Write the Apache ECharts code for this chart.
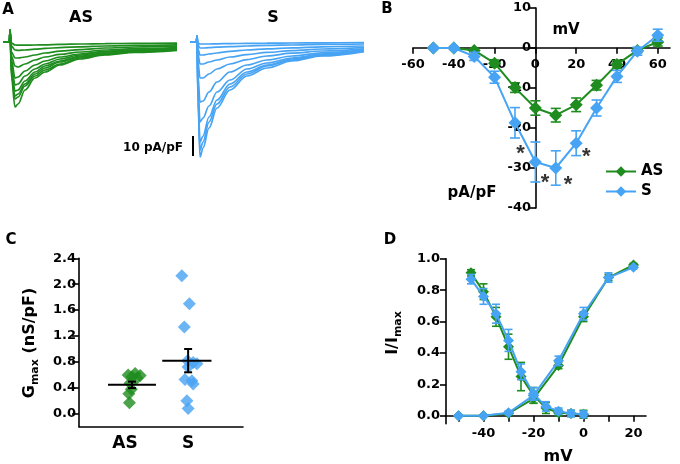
<!DOCTYPE html>
<html><head><meta charset="utf-8">
<script src="https://cdn.jsdelivr.net/npm/echarts@6/dist/echarts.min.js"></script>
<style>html,body{margin:0;padding:0;background:#fff}#c{width:680px;height:464px}</style>
</head><body><div id="c"></div>
<script>
// ---------- Panel A: current traces (pA/pF) ----------
const traceTimeAS = [-7, -0.5, 0, 1.5, 5, 8, 15, 25, 35, 50, 70, 95, 125, 167];
const tracesAS = [
  [0,0,6,-18,-32.5,-31,-24,-18,-15,-11.5,-8.5,-6.5,-5.2,-4.2],
  [0,0,6,-16,-28.5,-27.5,-22,-17,-14,-11,-8,-6.2,-5,-4],
  [0,0,6,-15,-27,-26,-21,-16,-13,-10,-7.5,-5.8,-4.7,-3.8],
  [0,0,6,-13,-24.5,-24,-19.5,-15,-12,-9.5,-7,-5.5,-4.5,-3.6],
  [0,0,6,-11,-21.5,-21,-17,-13.5,-11,-8.5,-6.5,-5,-4.2,-3.4],
  [0,0,6,-9,-18,-17.5,-14.5,-11.5,-9.5,-7.5,-6,-4.7,-3.9,-3.2],
  [0,0,6,-7,-12,-12.5,-11,-9,-7.5,-6.2,-5,-4,-3.3,-2.8],
  [0,0,6,-5,-8,-8,-7.5,-6.5,-5.5,-4.6,-3.8,-3,-2.5,-2.1],
  [0,0,6,-2,-4,-4.2,-4,-3.6,-3.2,-2.8,-2.4,-2,-1.7,-1.4],
  [0,0,6,-0.5,-1.5,-1.6,-1.6,-1.5,-1.4,-1.2,-1,-0.8,-0.7,-0.6]
];
const traceTimeS = [-7, -0.5, 0, 1, 3, 6, 12, 20, 33, 50, 70, 95, 125, 167];
const tracesS = [
  [0,0,3,-30,-57.5,-53,-43,-33,-24,-17,-13,-9.5,-7,-4.8],
  [0,0,3,-28,-54,-50,-40,-31,-22.5,-16,-12,-9,-6.7,-4.6],
  [0,0,3,-26,-50,-47,-37.5,-29,-21,-15,-11.5,-8.5,-6.4,-4.4],
  [0,0,3,-22,-40,-38,-32,-25,-19,-13.5,-10.5,-8,-6,-4.2],
  [0,0,3,-17,-30,-29.5,-25,-20,-15,-11.5,-9,-7,-5.4,-3.9],
  [0,0,3,-10,-18,-18,-16,-13.5,-11,-8.8,-7,-5.6,-4.5,-3.4],
  [0,0,3,-6,-11,-11,-10,-9,-7.5,-6.3,-5.2,-4.3,-3.5,-2.8],
  [0,0,3,-3.5,-6.5,-6.5,-6,-5.5,-4.7,-4,-3.4,-2.9,-2.4,-2],
  [0,0,3,-1.5,-3,-3,-2.8,-2.6,-2.3,-2,-1.7,-1.5,-1.2,-1],
  [0,0,3,-0.5,-1,-1,-1,-0.9,-0.8,-0.7,-0.6,-0.5,-0.4,-0.3]
];
const scaleBarTime = -4;
const scaleBarRange = [-47, -57]; // 10 pA/pF

// ---------- Panel B: I-V ----------
const ivVoltage = [-50,-40,-30,-20,-10,0,10,20,30,40,50,60];
const ivAS = [0,0,-0.6,-3.8,-9.9,-15,-16.8,-14.2,-9.3,-4.1,-0.6,1.5];
const ivASErr = [0,0,0.5,0.8,1.2,1.8,1.7,1.7,1.2,1.0,0.6,1.0];
const ivS = [0,0,-2.1,-7.3,-18.7,-28.5,-30,-23.8,-15,-7.1,-0.8,3.2];
const ivSErr = [0,0,1,1.5,3.8,5,4.3,3.1,2,1.5,1,1.5];
const starPoints = [[-7.3,-25.7],[4.7,-33],[16,-33.5],[25,-26.4]];
const ivXTicks = [-60,-40,-20,0,20,40,60];

// ---------- Panel C: Gmax ----------
const gmaxCategories = ['AS','S'];
const gmaxAS = [[1.05,0.60],[1.16,0.62],[1.24,0.59],[1.11,0.57],[1.19,0.55],[1.08,0.47],[1.1,0.38],[1.06,0.31],[1.07,0.17]];
const gmaxS = [[1.9,2.13],[2.02,1.70],[1.94,1.34],[2.08,0.79],[2.0,0.72],[2.14,0.77],[1.99,0.82],[1.95,0.53],[2.06,0.51],[2.08,0.46],[1.98,0.20],[2.0,0.08]];
// [errorBarX, mean, sem, lineStart, lineEnd]
const gmaxMeanAS = [1.11, 0.446, 0.05, 0.73, 1.49];
const gmaxMeanS = [2.0, 0.82, 0.18, 1.59, 2.37];
const gmaxTicks = [0,0.4,0.8,1.2,1.6,2.0,2.4];

// ---------- Panel D: activation / inactivation ----------
const inactV = [-45,-40,-35,-30,-25,-20,-15,-10,-5,0];
const inactAS = [0.91,0.79,0.63,0.44,0.25,0.13,0.05,0.02,0.015,0.01];
const inactASErr = [0.02,0.05,0.06,0.08,0.09,0.05,0.035,0.02,0.02,0.025];
const inactS = [0.87,0.76,0.65,0.48,0.28,0.14,0.06,0.03,0.015,0.01];
const inactSErr = [0.03,0.05,0.06,0.07,0.05,0.04,0.03,0.02,0.02,0.02];
const actV = [-50,-40,-30,-20,-10,0,10,20];
const actAS = [0,0,0.015,0.11,0.32,0.63,0.88,0.96];
const actASErr = [0,0,0.01,0.03,0.02,0.03,0.02,0.01];
const actS = [0,0,0.02,0.13,0.35,0.65,0.88,0.945];
const actSErr = [0,0,0.01,0.03,0.03,0.04,0.03,0.01];
const dXLabels = [-40,-20,0,20];
const dXTicks = [-50,-40,-30,-20,-10,0,10,20];
const dYLabels = [0,0.2,0.4,0.6,0.8,1.0];

const GREEN = '#1e8c1e';
const BLUE = '#47a3f3';
const FONT = 'DejaVu Sans';

const chart = echarts.init(document.getElementById('c'), null, {renderer:'canvas'});

function zip(xs, ys){ return xs.map((x,i)=>[x, ys[i]]); }
function errData(xs, ys, es){ return xs.map((x,i)=>[x, ys[i]-es[i], ys[i]+es[i]]); }
function errSeries(data, color, capHalf, lw, xi, yi, z){
  return {
    type:'custom', xAxisIndex:xi, yAxisIndex:yi, z:z, silent:true,
    data:data, encode:{x:0, y:[1,2]},
    renderItem:function(params, api){
      const x = api.value(0), lo = api.value(1), hi = api.value(2);
      const a = api.coord([x, hi]), b = api.coord([x, lo]);
      const st = {stroke:color, lineWidth:lw};
      return {type:'group', children:[
        {type:'line', shape:{x1:a[0],y1:a[1],x2:b[0],y2:b[1]}, style:st},
        {type:'line', shape:{x1:a[0]-capHalf,y1:a[1],x2:a[0]+capHalf,y2:a[1]}, style:st},
        {type:'line', shape:{x1:b[0]-capHalf,y1:b[1],x2:b[0]+capHalf,y2:b[1]}, style:st}
      ]};
    }
  };
}
function meanSeries(m, xi, yi){
  return {
    type:'custom', xAxisIndex:xi, yAxisIndex:yi, z:10, silent:true,
    data:[m],
    renderItem:function(params, api){
      const ex = api.value(0), mean = api.value(1), sem = api.value(2), x0 = api.value(3), x1 = api.value(4);
      const l = api.coord([x0, mean]), r = api.coord([x1, mean]);
      const t = api.coord([ex, mean+sem]), b = api.coord([ex, mean-sem]);
      const st = {stroke:'#000', lineWidth:2};
      return {type:'group', children:[
        {type:'line', shape:{x1:l[0],y1:l[1],x2:r[0],y2:r[1]}, style:st},
        {type:'line', shape:{x1:t[0],y1:t[1],x2:b[0],y2:b[1]}, style:st},
        {type:'line', shape:{x1:t[0]-4,y1:t[1],x2:t[0]+4,y2:t[1]}, style:st},
        {type:'line', shape:{x1:b[0]-4,y1:b[1],x2:b[0]+4,y2:b[1]}, style:st}
      ]};
    }
  };
}

const axisLineBlack = {show:true, onZero:false, lineStyle:{color:'#000', width:1.6}};
const lbl = {color:'#000', fontFamily:FONT, fontWeight:'bold', fontSize:13};

const series = [];
tracesAS.forEach((tr)=>series.push({type:'line', xAxisIndex:0, yAxisIndex:0, data:zip(traceTimeAS, tr), showSymbol:false, smooth:0.35, smoothMonotone:'x', lineStyle:{color:GREEN, width:1.7}, silent:true}));
tracesS.forEach((tr)=>series.push({type:'line', xAxisIndex:1, yAxisIndex:1, data:zip(traceTimeS, tr), showSymbol:false, smooth:0.35, smoothMonotone:'x', lineStyle:{color:BLUE, width:1.7}, silent:true}));
series.push({type:'line', xAxisIndex:1, yAxisIndex:1, data:scaleBarRange.map(v=>[scaleBarTime, v]), showSymbol:false, lineStyle:{color:'#000', width:2}, silent:true});

// Panel B
series.push(errSeries(errData(ivVoltage, ivAS, ivASErr), GREEN, 5, 1.6, 2, 2, 3));
series.push({name:'AS', type:'line', xAxisIndex:2, yAxisIndex:2, data:zip(ivVoltage, ivAS), symbol:'diamond', symbolSize:13, showAllSymbol:true, itemStyle:{color:GREEN}, lineStyle:{color:GREEN, width:2}, z:4});
series.push(errSeries(errData(ivVoltage, ivS, ivSErr), BLUE, 5, 1.6, 2, 2, 5));
series.push({name:'S', type:'line', xAxisIndex:2, yAxisIndex:2, data:zip(ivVoltage, ivS), symbol:'diamond', symbolSize:13, showAllSymbol:true, itemStyle:{color:BLUE}, lineStyle:{color:BLUE, width:2}, z:6});
series.push({type:'scatter', xAxisIndex:2, yAxisIndex:2, data:starPoints, symbolSize:1, itemStyle:{color:'rgba(0,0,0,0)'}, z:7,
  label:{show:true, position:'inside', formatter:'*', color:'#000', fontFamily:'Liberation Sans', fontWeight:'bold', fontSize:22, offset:[0,3]}});

// Panel C
series.push({type:'scatter', xAxisIndex:3, yAxisIndex:3, data:gmaxAS, symbol:'diamond', symbolSize:13, itemStyle:{color:GREEN}, z:3});
series.push({type:'scatter', xAxisIndex:3, yAxisIndex:3, data:gmaxS, symbol:'diamond', symbolSize:13, itemStyle:{color:BLUE}, z:3});
series.push(meanSeries(gmaxMeanAS, 3, 3));
series.push(meanSeries(gmaxMeanS, 3, 3));

// Panel D
series.push(errSeries(errData(inactV, inactAS, inactASErr), GREEN, 4, 1.6, 4, 4, 3));
series.push({type:'line', xAxisIndex:4, yAxisIndex:4, data:zip(inactV, inactAS), symbol:'diamond', symbolSize:11, itemStyle:{color:GREEN}, lineStyle:{color:GREEN, width:2}, z:4});
series.push(errSeries(errData(actV, actAS, actASErr), GREEN, 4, 1.6, 4, 4, 3));
series.push({type:'line', xAxisIndex:4, yAxisIndex:4, data:zip(actV, actAS), symbol:'diamond', symbolSize:11, itemStyle:{color:GREEN}, lineStyle:{color:GREEN, width:2}, z:4});
series.push(errSeries(errData(inactV, inactS, inactSErr), BLUE, 4, 1.6, 4, 4, 5));
series.push({type:'line', xAxisIndex:4, yAxisIndex:4, data:zip(inactV, inactS), symbol:'diamond', symbolSize:11, itemStyle:{color:BLUE}, lineStyle:{color:BLUE, width:2}, z:6});
series.push(errSeries(errData(actV, actS, actSErr), BLUE, 4, 1.6, 4, 4, 5));
series.push({type:'line', xAxisIndex:4, yAxisIndex:4, data:zip(actV, actS), symbol:'diamond', symbolSize:11, itemStyle:{color:BLUE}, lineStyle:{color:BLUE, width:2}, z:6});

const hiddenAxis = (min,max,gi)=>({type:'value', gridIndex:gi, min:min, max:max, show:false, splitLine:{show:false}});

const option = {
  animation:false,
  backgroundColor:'#fff',
  grid:[
    {left:3, top:26, width:174, height:136, containLabel:false, outerBoundsMode:'none'},
    {left:190, top:26, width:174, height:136, containLabel:false, outerBoundsMode:'none'},
    {left:413, top:8, width:257, height:200, containLabel:false, outerBoundsMode:'none'},
    {left:79, top:258.3, width:164, height:168.4, containLabel:false, outerBoundsMode:'none'},
    {left:446, top:258.7, width:200, height:165, containLabel:false, outerBoundsMode:'none'}
  ],
  xAxis:[
    hiddenAxis(-7,167,0),
    hiddenAxis(-7,167,1),
    {type:'value', gridIndex:2, min:-60, max:66, position:'bottom', offset:-160.3, axisLine:axisLineBlack,
     axisTick:{show:true, inside:false, length:6, lineStyle:{color:'#000', width:1.6}, customValues:ivXTicks},
     axisLabel:Object.assign({customValues:ivXTicks, margin:10}, lbl), splitLine:{show:false}},
    {type:'value', gridIndex:3, min:0.27, max:2.87, axisLine:axisLineBlack,
     axisTick:{show:false},
     axisLabel:Object.assign({}, lbl, {customValues:[1,2], formatter:(v)=>gmaxCategories[Math.round(v)-1], fontSize:17, margin:8}), splitLine:{show:false}},
    {type:'value', gridIndex:4, min:-55, max:25, position:'bottom', offset:-8, axisLine:axisLineBlack,
     axisTick:{show:true, inside:false, length:6, lineStyle:{color:'#000', width:1.6}, customValues:dXTicks},
     axisLabel:Object.assign({customValues:dXLabels, margin:11}, lbl), splitLine:{show:false}}
  ],
  yAxis:[
    hiddenAxis(-60,8,0),
    hiddenAxis(-60,8,1),
    {type:'value', gridIndex:2, min:-40, max:10, interval:10, position:'left', offset:-123, axisLine:axisLineBlack,
     axisTick:{show:true, inside:false, length:7, lineStyle:{color:'#000', width:1.6}},
     axisLabel:Object.assign({margin:5}, lbl), splitLine:{show:false}},
    {type:'value', gridIndex:3, min:-0.2, max:2.4, axisLine:axisLineBlack,
     axisTick:{show:true, inside:false, length:7, lineStyle:{color:'#000', width:1.6}, customValues:gmaxTicks},
     axisLabel:Object.assign({customValues:gmaxTicks, formatter:(v)=>v.toFixed(1), margin:3}, lbl), splitLine:{show:false}},
    {type:'value', gridIndex:4, min:-0.05, max:1.0, axisLine:axisLineBlack,
     axisTick:{show:true, inside:false, length:6, lineStyle:{color:'#000', width:1.6}, customValues:dYLabels},
     minorTick:{show:false},
     axisLabel:Object.assign({customValues:dYLabels, formatter:(v)=>v.toFixed(1), margin:6}, lbl), splitLine:{show:false}}
  ],
  legend:{
    show:true, orient:'vertical', left:600, top:159, itemWidth:30, itemHeight:13, itemGap:5,
    data:['AS','S'], textStyle:{color:'#000', fontFamily:FONT, fontWeight:'bold', fontSize:15},
    selectedMode:false
  },
  graphic:[
    {type:'text', x:8, y:10, style:{text:'A', font:'bold 15px "DejaVu Sans"', fill:'#000', align:'center', verticalAlign:'middle'}},
    {type:'text', x:387, y:9, style:{text:'B', font:'bold 15px "DejaVu Sans"', fill:'#000', align:'center', verticalAlign:'middle'}},
    {type:'text', x:11, y:240, style:{text:'C', font:'bold 15px "DejaVu Sans"', fill:'#000', align:'center', verticalAlign:'middle'}},
    {type:'text', x:390, y:240, style:{text:'D', font:'bold 15px "DejaVu Sans"', fill:'#000', align:'center', verticalAlign:'middle'}},
    {type:'text', x:81, y:18, style:{text:'AS', font:'bold 16px "DejaVu Sans"', fill:'#000', align:'center', verticalAlign:'middle'}},
    {type:'text', x:273, y:18, style:{text:'S', font:'bold 16px "DejaVu Sans"', fill:'#000', align:'center', verticalAlign:'middle'}},
    {type:'text', x:183, y:148, style:{text:'10 pA/pF', font:'bold 12px "DejaVu Sans"', fill:'#000', align:'right', verticalAlign:'middle'}},
    {type:'text', x:566, y:30, style:{text:'mV', font:'bold 15px "DejaVu Sans"', fill:'#000', align:'center', verticalAlign:'middle'}},
    {type:'text', x:472, y:193, style:{text:'pA/pF', font:'bold 15px "DejaVu Sans"', fill:'#000', align:'center', verticalAlign:'middle'}},
    {type:'text', x:558, y:457, style:{text:'mV', font:'bold 16px "DejaVu Sans"', fill:'#000', align:'center', verticalAlign:'middle'}},
    {type:'text', x:30, y:343, rotation:Math.PI/2, style:{text:'{a|G}{b|max}{a| (nS/pF)}', align:'center', verticalAlign:'middle',
      rich:{a:{font:'bold 16px "DejaVu Sans"', fill:'#000', lineHeight:22, verticalAlign:'middle'}, b:{font:'bold 11px "DejaVu Sans"', fill:'#000', lineHeight:22, verticalAlign:'bottom', padding:[6,0,0,0]}}}},
    {type:'text', x:393, y:333, rotation:Math.PI/2, style:{text:'{a|I/I}{b|max}', align:'center', verticalAlign:'middle',
      rich:{a:{font:'bold 16px "DejaVu Sans"', fill:'#000', lineHeight:22, verticalAlign:'middle'}, b:{font:'bold 11px "DejaVu Sans"', fill:'#000', lineHeight:22, verticalAlign:'bottom', padding:[6,0,0,0]}}}}
  ],
  series:series
};
chart.setOption(option);
</script></body></html>
